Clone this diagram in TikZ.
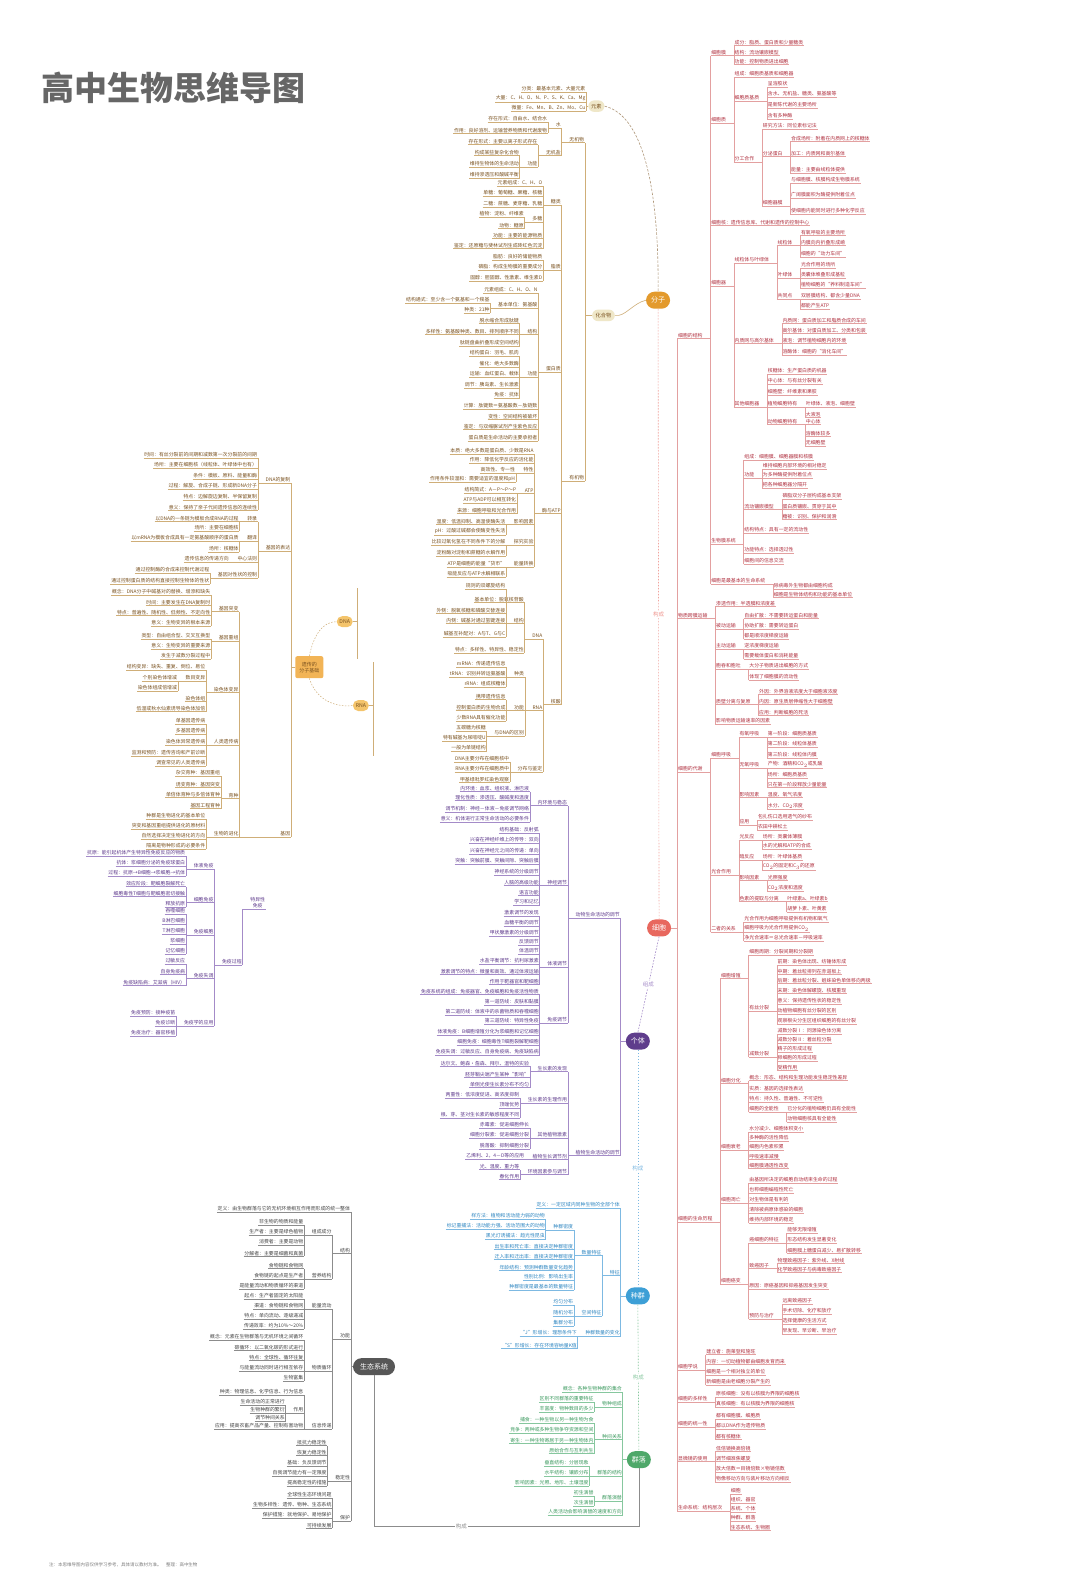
\documentclass[tikz,border=0pt]{standalone}
\usepackage{fontspec}
\setmainfont{Noto Sans CJK SC}
\usetikzlibrary{shapes.misc}
\definecolor{obt}{HTML}{7A5220}\definecolor{obl}{HTML}{CFAE78}
\definecolor{rbt}{HTML}{B0303F}\definecolor{rbl}{HTML}{E3A0A0}
\definecolor{pbt}{HTML}{5E3A8C}\definecolor{pbl}{HTML}{A48BC8}
\definecolor{ubt}{HTML}{2E86C1}\definecolor{ubl}{HTML}{7DB9E2}
\definecolor{gbt}{HTML}{3C9A5F}\definecolor{gbl}{HTML}{86C79E}
\definecolor{kbt}{HTML}{444444}\definecolor{kbl}{HTML}{8C8C8C}
\definecolor{beige}{HTML}{EFE7C8}\definecolor{cfz}{HTML}{E39A2D}
\definecolor{cxb}{HTML}{E8685E}\definecolor{cgt}{HTML}{5F3D8C}
\definecolor{czq}{HTML}{3D9FD6}\definecolor{cql}{HTML}{4FA86A}
\definecolor{cst}{HTML}{575757}\definecolor{cdna}{HTML}{F4C46B}
\definecolor{cbig}{HTML}{F2B456}\definecolor{ctitle}{HTML}{666666}
\colorlet{bt}{obt}\colorlet{bl}{obl}
\tikzset{
 lfL/.style={anchor=south east, inner xsep=0.6pt, inner ysep=0.8pt, text=bt, font=\fontsize{4.9}{5.5}\selectfont},
 lfR/.style={lfL, anchor=south west},
 br/.style={draw=bl, line width=0.4pt},
 anc/.style={inner sep=0pt, outer sep=0pt, minimum size=0pt},
 pill/.style={rounded rectangle, text=white, minimum height=17pt, minimum width=32pt, inner xsep=4pt, font=\fontsize{7}{8}\selectfont},
 spill/.style={rounded rectangle, fill=beige, text=obt, minimum height=11pt, minimum width=22pt, inner xsep=3pt, font=\fontsize{5.2}{6}\selectfont},
 spine/.style={line width=0.6pt, dash pattern=on 1.6pt off 1.4pt},
 lab/.style={fill=white, inner sep=1pt, font=\fontsize{5.5}{6}\selectfont},
}
\newcommand\kidsL[3][7]{%
  \path (#2.south west) ++(-#1,0) coordinate (#2-x);
  \foreach \yy/\tx [count=\nn] in {#3}{%
    \coordinate (yy) at (0,\yy);
    \node[lfL] (#2-\nn) at (#2-x |- yy) {\tx};
    \draw[br] (#2.south west) -| (#2-\nn.south east);
    \draw[br] (#2-\nn.south west) -- (#2-\nn.south east);
  }%
}
\newcommand\kidsR[3][7]{%
  \path (#2.south east) ++(#1,0) coordinate (#2-x);
  \foreach \yy/\tx [count=\nn] in {#3}{%
    \coordinate (yy) at (0,\yy);
    \node[lfR] (#2-\nn) at (#2-x |- yy) {\tx};
    \draw[br] (#2.south east) -| (#2-\nn.south west);
    \draw[br] (#2-\nn.south west) -- (#2-\nn.south east);
  }%
}
\begin{document}
\begin{tikzpicture}[x=1.011pt,y=-1.011pt]
\fill[white] (0,0) rectangle (1068,1568);
\useasboundingbox (0,0) rectangle (1068,1568);
\node[anchor=west, text=ctitle, font=\fontsize{33}{36}\selectfont\bfseries] (title) at (38,87) {高中生物思维导图};
\node[anchor=west, text=gray, font=\fontsize{4.5}{5}\selectfont] (foot) at (45,1548) {注：本思维导图内容仅供学习参考，具体请以教材为准。\quad 整理：高中生物};
% ---------- spine ----------
\node[spill] (ys) at (590,105) {元素};
\node[spill] (hh) at (597,312) {化合物};
\node[pill, fill=cfz] (fz) at (651,297) {分子};
\node[pill, fill=cxb] (xb) at (652,918) {细胞};
\node[pill, fill=cgt] (gt) at (631,1030) {个体};
\node[pill, fill=czq] (zq) at (631,1282) {种群};
\node[pill, fill=cql] (ql) at (632,1444) {群落};
\node[pill, fill=cst, minimum width=50pt] (st) at (370,1352) {生态系统};
\draw[draw=obt!60, line width=0.6pt, dash pattern=on 2.5pt off 1.5pt] (ys.east) .. controls (640,115) and (652,200) .. (fz.north);
\draw[draw=obl, line width=0.6pt] (hh.east) .. controls (618,314) and (626,300) .. (fz.west);
\draw[spine, draw=cxb!60] (fz.south) -- node[lab, text=cxb!70] {构成} (xb.north);
\draw[spine, draw=pbl] (xb.south) -- node[lab, text=pbl] {组成} (gt.north);
\draw[spine, draw=ubl] (gt.south) -- node[lab, text=ubl] {构成} (zq.north);
\draw[spine, draw=gbl] (zq.south) -- node[lab, text=gbl] {构成} (ql.north);
\coordinate (b1) at (632,1510); \coordinate (b2) at (370,1510);
\draw[draw=kbl, line width=0.5pt] (ql.south) -- (b1) -- node[lab, pos=0.67, text=kbl] {构成} (b2) -- (st.south);
% ---------- 元素 ----------
\node[anc] (ysw) at (ys.west) {};
\kidsL[2]{ysw}{91/分类：最基本元素、大量元素, 101/大量：C、H、O、N、P、S、K、Ca、Mg, 110/微量：Fe、Mn、B、Zn、Mo、Cu}
% ---------- 化合物 ----------
\node[anc] (hw) at (hh.west) {};
\kidsL{hw}{141/无机物, 476/有机物}
\kidsL{hw-1}{127/水, 154/无机盐}
\kidsL{hw-1-1}{121/存在形式：自由水、结合水, 132/作用：良好溶剂、运输营养物质和代谢废物}
\kidsL{hw-1-2}{143/存在形式：主要以离子形式存在, 165/功能}
\kidsL{hw-1-2-2}{154/构成某些复杂化合物, 165/维持生物体的生命活动, 176/维持渗透压和酸碱平衡}
\kidsL{hw-2}{203/糖类, 267/脂质, 368/蛋白质, 508/酶与ATP, 697/核酸}
\kidsL{hw-2-1}{184/元素组成：C、H、O, 194/单糖：葡萄糖、果糖、核糖, 205/二糖：蔗糖、麦芽糖、乳糖, 220/多糖, 236/功能：主要的能源物质, 246/鉴定：还原糖与斐林试剂生成砖红色沉淀}
\kidsL{hw-2-1-4}{215/植物：淀粉、纤维素, 226/动物：糖原}
\kidsL{hw-2-2}{257/脂肪：良好的储能物质, 267/磷脂：构成生物膜的重要成分, 278/固醇：胆固醇、性激素、维生素D}
\kidsL{hw-2-3}{290/元素组成：C、H、O、N, 305/基本单位：氨基酸, 331/结构, 373/功能, 405/计算：肽键数＝氨基酸数－肽链数, 415/变性：空间结构被破坏, 425/鉴定：与双缩脲试剂产生紫色反应, 436/蛋白质是生命活动的主要承担者}
\kidsL{hw-2-3-2}{300/结构通式：至少含一个氨基和一个羧基, 310/种类：21种}
\kidsL{hw-2-3-3}{320/脱水缩合形成肽键, 331/多样性：氨基酸种类、数目、排列顺序不同, 342/肽链盘曲折叠形成空间结构}
\kidsL{hw-2-3-4}{352/结构蛋白：羽毛、肌肉, 363/催化：绝大多数酶, 373/运输：血红蛋白、载体, 384/调节：胰岛素、生长激素, 394/免疫：抗体}
\kidsL{hw-2-4}{449/本质：绝大多数是蛋白质、少数是RNA, 458/作用：降低化学反应的活化能, 468/特性, 488/ATP, 519/影响因素, 539/探究实验, 561/能量转换}
\kidsL{hw-2-4-3}{468/高效性、专一性, 477/作用条件较温和：需要适宜的温度和pH}
\kidsL{hw-2-4-4}{488/结构简式：A－P～P～P, 498/ATP与ADP可以相互转化, 508/来源：细胞呼吸和光合作用}
\kidsL{hw-2-4-5}{519/温度：低温抑制、高温使酶失活, 529/pH：过酸过碱都会使酶变性失活}
\kidsL{hw-2-4-6}{539/比较过氧化氢在不同条件下的分解, 550/淀粉酶对淀粉和蔗糖的水解作用}
\kidsL{hw-2-4-7}{561/ATP是细胞的能量“货币”, 571/吸能反应与ATP水解相联系}
\kidsL{hw-2-5}{632/DNA, 703/RNA, 764/分布与鉴定}
\kidsL{hw-2-5-1}{596/基本单位：脱氧核苷酸, 617/结构, 646/特点：多样性、特异性、稳定性}
\kidsL{hw-2-5-1-2}{583/规则的双螺旋结构, 607/外侧：脱氧核糖和磷酸交替连接, 617/内侧：碱基对通过氢键连接, 630/碱基互补配对：A与T、G与C}
\kidsL{hw-2-5-2}{670/种类, 703/功能, 728/与DNA的区别}
\kidsL{hw-2-5-2-1}{660/mRNA：传递遗传信息, 670/tRNA：识别并转运氨基酸, 680/rRNA：组成核糖体}
\kidsL{hw-2-5-2-2}{692/携带遗传信息, 703/控制蛋白质的生物合成, 713/少数RNA具有催化功能}
\kidsL{hw-2-5-2-3}{723/五碳糖为核糖, 733/特有碱基为尿嘧啶U, 743/一般为单链结构}
\kidsL{hw-2-5-3}{754/DNA主要分布在细胞核中, 764/RNA主要分布在细胞质中, 774/甲基绿吡罗红染色观察}
% ---------- 遗传 ----------
\node[rounded corners=2pt, fill=cbig, text=obt, align=center, minimum width=28pt, minimum height=22pt, inner sep=1.5pt, font=\fontsize{5}{6}\selectfont] (bn) at (306,660) {遗传的\\分子基础};
\node[spill, fill=cdna] (dna) at (341,615) {DNA};
\node[spill, fill=cdna] (rna) at (357,698) {RNA};
\draw[draw=obl, line width=0.5pt, dash pattern=on 1.5pt off 1.5pt] (bn.north) .. controls (310,630) and (318,615) .. (dna.west);
\draw[draw=obl, line width=0.5pt, dash pattern=on 1.5pt off 1.5pt] (bn.south) .. controls (312,690) and (328,700) .. (rna.west);
\coordinate (sa1) at (353,582); \coordinate (sa2) at (353,652);
\coordinate (sb1) at (369,655); \coordinate (sb2) at (369,748);
\draw[br] (sa1) -- (sa2); \draw[br] (dna.east) -- (dna.east -| sa1);
\draw[br] (sb1) -- (sb2); \draw[br] (rna.east) -- (rna.east -| sb1);
\node[anc] (bnw) at (bn.west) {};
\kidsL[4]{bnw}{478/DNA的复制, 545/基因的表达, 828/基因}
\kidsL{bnw-1}{453/时间：有丝分裂前的间期和减数第一次分裂前的间期, 463/场所：主要在细胞核（线粒体、叶绿体中也有）, 474/条件：模板、原料、能量和酶, 484/过程：解旋、合成子链、形成新DNA分子, 495/特点：边解旋边复制、半保留复制, 505/意义：保持了亲子代间遗传信息的连续性}
\kidsL{bnw-2}{516/转录, 535/翻译, 556/中心法则, 572/基因对性状的控制}
\kidsL{bnw-2-1}{516/以DNA的一条链为模板合成RNA的过程, 525/场所：主要在细胞核}
\kidsL{bnw-2-2}{535/以mRNA为模板合成具有一定氨基酸顺序的蛋白质, 546/场所：核糖体}
\kidsL{bnw-2-3}{556/遗传信息的传递方向}
\kidsL{bnw-2-4}{567/通过控制酶的合成来控制代谢过程, 578/通过控制蛋白质的结构直接控制生物体的性状}
\kidsL[40]{bnw-3}{605/基因突变, 634/基因重组, 685/染色体变异, 737/人类遗传病, 790/育种, 828/生物的进化}
\kidsL{bnw-3-1}{589/概念：DNA分子中碱基对的替换、增添和缺失, 599/时间：主要发生在DNA复制时, 609/特点：普遍性、随机性、低频性、不定向性, 619/意义：生物变异的根本来源}
\kidsL{bnw-3-2}{632/类型：自由组合型、交叉互换型, 642/意义：生物变异的重要来源, 652/发生于减数分裂过程中}
\kidsL{bnw-3-3}{663/结构变异：缺失、重复、倒位、易位, 674/数目变异, 694/染色体组, 704/低温或秋水仙素诱导染色体加倍}
\kidsL{bnw-3-3-2}{674/个别染色体增减, 684/染色体组成倍增减}
\kidsL{bnw-3-4}{716/单基因遗传病, 726/多基因遗传病, 737/染色体异常遗传病, 748/监测和预防：遗传咨询和产前诊断, 758/调查常见的人类遗传病}
\kidsL{bnw-3-5}{768/杂交育种：基因重组, 779/诱变育种：基因突变, 789/单倍体育种与多倍体育种, 800/基因工程育种}
\kidsL{bnw-3-6}{810/种群是生物进化的基本单位, 820/突变和基因重组提供进化的原材料, 830/自然选择决定生物进化的方向, 840/隔离是物种形成的必要条件}
% ---------- 个体 ----------
\colorlet{bt}{pbt}\colorlet{bl}{pbl}
\node[anc] (gtw) at (gt.west) {};
\kidsL[5]{gtw}{908/动物生命活动的调节, 1143/植物生命活动的调节}
\kidsL{gtw-1}{797/内环境与稳态, 876/神经调节, 957/体液调节, 1012/免疫调节}
\kidsL{gtw-1-1}{783/内环境：血浆、组织液、淋巴液, 792/理化性质：渗透压、酸碱度和温度, 803/调节机制：神经－体液－免疫调节网络, 813/意义：机体进行正常生命活动的必要条件}
\kidsL{gtw-1-2}{824/结构基础：反射弧, 834/兴奋在神经纤维上的传导：双向, 845/兴奋在神经元之间的传递：单向, 855/突触：突触前膜、突触间隙、突触后膜, 866/神经系统的分级调节, 876/人脑的高级功能, 886/语言功能, 895/学习和记忆}
\kidsL{gtw-1-3}{906/激素调节的发现, 916/血糖平衡的调节, 926/甲状腺激素的分级调节, 935/反馈调节, 944/体温调节, 954/水盐平衡调节：抗利尿激素, 964/激素调节的特点：微量和高效、通过体液运输, 974/作用于靶器官和靶细胞}
\kidsL{gtw-1-4}{984/免疫系统的组成：免疫器官、免疫细胞和免疫活性物质, 994/第一道防线：皮肤和黏膜, 1004/第二道防线：体液中的杀菌物质和吞噬细胞, 1013/第三道防线：特异性免疫, 1024/体液免疫：B细胞增殖分化为浆细胞和记忆细胞, 1034/细胞免疫：细胞毒性T细胞裂解靶细胞, 1044/免疫失调：过敏反应、自身免疫病、免疫缺陷病}
\kidsL{gtw-2}{1060/生长素的发现, 1091/生长素的生理作用, 1126/其他植物激素, 1147/植物生长调节剂, 1162/环境因素参与调节}
\kidsL{gtw-2-1}{1055/达尔文、鲍森·詹森、拜尔、温特的实验, 1066/胚芽鞘尖端产生某种“影响”, 1076/单侧光使生长素分布不均匀}
\kidsL{gtw-2-2}{1086/两重性：低浓度促进、高浓度抑制, 1096/顶端优势, 1106/根、芽、茎对生长素的敏感程度不同}
\kidsL{gtw-2-3}{1116/赤霉素：促进细胞伸长, 1126/细胞分裂素：促进细胞分裂, 1137/脱落酸：抑制细胞分裂}
\kidsL{gtw-2-4}{1147/乙烯利、2，4－D等的应用}
\kidsL{gtw-2-5}{1157/光、温度、重力等, 1167/春化作用}
\node[lfL, align=center] (fp) at (263,899) {特异性\\免疫};
\draw[br] (fp.south west) -- (fp.south east);
\kidsL{fp}{955/免疫过程}
\kidsL{fp-1}{860/体液免疫, 893/细胞免疫, 925/免疫细胞, 968/免疫失调, 1015/免疫学的应用}
\kidsL{fp-1-1}{847/抗原：能引起机体产生特异性免疫反应的物质, 857/抗体：浆细胞分泌的免疫球蛋白, 867/过程：抗原→B细胞→浆细胞→抗体}
\kidsL{fp-1-2}{877/效应阶段：靶细胞裂解死亡, 887/细胞毒性T细胞与靶细胞密切接触, 897/释放抗原}
\kidsL{fp-1-3}{904/吞噬细胞, 914/B淋巴细胞, 924/T淋巴细胞, 934/浆细胞, 944/记忆细胞}
\kidsL{fp-1-4}{954/过敏反应, 964/自身免疫病, 975/免疫缺陷病：艾滋病（HIV）}
\kidsL{fp-1-5}{1005/免疫预防：接种疫苗, 1015/免疫诊断, 1025/免疫治疗：器官移植}
% ---------- 种群 ----------
\colorlet{bt}{ubt}\colorlet{bl}{ubl}
\node[anc] (zqw) at (zq.west) {};
\kidsL[5]{zqw}{1195/定义：一定区域内同种生物的全部个体, 1262/特征, 1322/种群数量的变化}
\kidsL{zqw-2}{1242/数量特征, 1302/空间特征}
\kidsL{zqw-2-1}{1217/种群密度, 1236/出生率和死亡率：直接决定种群密度, 1246/迁入率和迁出率：直接决定种群密度, 1257/年龄结构：预测种群数量变化趋势, 1266/性别比例：影响出生率, 1276/种群密度是最基本的数量特征}
\kidsL{zqw-2-1-1}{1206/样方法：植物和活动能力弱的动物, 1216/标记重捕法：活动能力强、活动范围大的动物, 1226/黑光灯诱捕法：趋光性昆虫}
\kidsL{zqw-2-2}{1291/均匀分布, 1302/随机分布, 1312/集群分布}
\kidsL{zqw-3}{1322/“J”形增长：理想条件下, 1334/“S”形增长：存在环境容纳量K值}
% ---------- 群落 ----------
\colorlet{bt}{gbt}\colorlet{bl}{gbl}
\node[anc] (qlw) at (ql.west) {};
\kidsL[4]{qlw}{1377/概念：各种生物种群的集合, 1392/物种组成, 1424/种间关系, 1460/群落的结构, 1485/群落演替, 1499/人类活动会影响演替的速度和方向}
\kidsL{qlw-2}{1387/区别不同群落的重要特征, 1397/丰富度：物种数目的多少}
\kidsL{qlw-3}{1408/捕食：一种生物以另一种生物为食, 1418/竞争：两种或多种生物争夺资源和空间, 1428/寄生：一种生物寄居于另一种生物体内, 1438/原始合作与互利共生}
\kidsL{qlw-4}{1450/垂直结构：分层现象, 1460/水平结构：镶嵌分布, 1470/影响因素：光照、地形、土壤湿度}
\kidsL{qlw-5}{1480/初生演替, 1490/次生演替}
% ---------- 生态系统 ----------
\colorlet{bt}{kbt}\colorlet{bl}{kbl}
\node[anc] (stw) at (st.west) {};
\kidsL[2]{stw}{1199/定义：由生物群落与它的无机环境相互作用而形成的统一整体, 1240/结构, 1325/功能, 1465/稳定性, 1505/保护}
\kidsL{stw-2}{1222/组成成分, 1265/营养结构}
\kidsL{stw-2-1}{1212/非生物的物质和能量, 1222/生产者：主要是绿色植物, 1232/消费者：主要是动物, 1243/分解者：主要是细菌和真菌}
\kidsL{stw-2-2}{1255/食物链和食物网, 1265/食物链的起点是生产者, 1275/是能量流动和物质循环的渠道}
\kidsL{stw-3}{1295/能量流动, 1356/物质循环, 1414/信息传递}
\kidsL{stw-3-1}{1285/起点：生产者固定的太阳能, 1295/渠道：食物链和食物网, 1305/特点：单向流动、逐级递减, 1315/传递效率：约为10\%～20\%}
\kidsL{stw-3-2}{1326/概念：元素在生物群落与无机环境之间循环, 1336/碳循环：以二氧化碳的形式进行, 1346/特点：全球性、循环往复, 1356/与能量流动同时进行相互依存, 1366/生物富集}
\kidsL{stw-3-3}{1380/种类：物理信息、化学信息、行为信息, 1398/作用, 1414/应用：提高农畜产品产量、控制有害动物}
\kidsL{stw-3-3-2}{1390/生命活动的正常进行, 1398/生物种群的繁衍, 1406/调节种间关系}
\kidsL{stw-4}{1430/抵抗力稳定性, 1440/恢复力稳定性, 1450/基础：负反馈调节, 1460/自我调节能力有一定限度, 1470/提高稳定性的措施}
\kidsL{stw-5}{1482/全球性生态环境问题, 1492/生物多样性：遗传、物种、生态系统, 1502/保护措施：就地保护、易地保护, 1512/可持续发展}
% ---------- 细胞 ----------
\colorlet{bt}{rbt}\colorlet{bl}{rbl}
\node[anc] (xbe) at (xb.east) {};
\kidsR[6]{xbe}{335/细胞的结构, 612/物质跨膜运输, 764/细胞的代谢, 1209/细胞的生命历程, 1355/细胞学说, 1387/细胞的多样性, 1412/细胞的统一性, 1446/显微镜的使用, 1495/生命系统：结构层次}
\kidsR{xbe-1}{55/细胞膜, 122/细胞质, 223/细胞核：遗传信息库、代谢和遗传的控制中心, 283/细胞器, 538/生物膜系统, 578/细胞是最基本的生命系统}
\kidsR{xbe-1-1}{45/成分：脂质、蛋白质和少量糖类, 55/结构：流动镶嵌模型, 64/功能：控制物质进出细胞}
\kidsR{xbe-1-2}{76/组成：细胞质基质和细胞器, 100/细胞质基质, 160/分工合作}
\kidsR{xbe-1-2-2}{86/呈溶胶状, 96/含水、无机盐、糖类、氨基酸等, 107/是新陈代谢的主要场所, 118/含有多种酶}
\kidsR{xbe-1-2-3}{128/研究方法：同位素标记法, 155/分泌蛋白, 204/细胞器膜}
\kidsR{xbe-1-2-3-2}{140/合成场所：附着在内质网上的核糖体, 155/加工：内质网和高尔基体, 171/能量：主要由线粒体提供}
\kidsR{xbe-1-2-3-3}{181/与细胞膜、核膜构成生物膜系统, 196/广阔膜面积为酶提供附着位点, 212/使细胞内能同时进行多种化学反应}
\kidsR{xbe-1-4}{260/线粒体与叶绿体, 340/内质网与高尔基体, 403/其他细胞器}
\kidsR{xbe-1-4-1}{243/线粒体, 275/叶绿体, 296/共同点}
\kidsR{xbe-1-4-1-1}{233/有氧呼吸的主要场所, 243/内膜向内折叠形成嵴, 254/细胞的“动力车间”}
\kidsR{xbe-1-4-1-2}{265/光合作用的场所, 275/类囊体堆叠形成基粒, 285/植物细胞的“养料制造车间”}
\kidsR{xbe-1-4-1-3}{296/双层膜结构、都含少量DNA, 306/都能产生ATP}
\kidsR{xbe-1-4-2}{320/内质网：蛋白质加工和脂质合成的车间, 330/高尔基体：对蛋白质加工、分类和包装, 340/液泡：调节植物细胞内的环境, 351/溶酶体：细胞的“消化车间”}
\kidsR{xbe-1-4-3}{370/核糖体：生产蛋白质的机器, 380/中心体：与有丝分裂有关, 391/细胞壁：纤维素和果胶, 403/植物细胞特有, 420/动物细胞特有}
\kidsR{xbe-1-4-3-4}{403/叶绿体、液泡、细胞壁, 413/大液泡}
\kidsR{xbe-1-4-3-5}{420/中心体, 432/溶酶体较多, 441/无细胞壁}
\kidsR{xbe-1-5}{455/组成：细胞膜、细胞器膜和核膜, 473/功能, 504/流动镶嵌模型, 527/结构特点：具有一定的流动性, 547/功能特点：选择透过性, 558/细胞间的信息交流}
\kidsR{xbe-1-5-2}{464/维持细胞内部环境的相对稳定, 473/为多种酶提供附着位点, 483/把各种细胞器分隔开}
\kidsR{xbe-1-5-3}{494/磷脂双分子层构成基本支架, 504/蛋白质镶嵌、贯穿于其中, 514/糖被：识别、保护和润滑}
\kidsR{xbe-1-6}{583/除病毒外生物都由细胞构成, 591/细胞是生物体结构和功能的基本单位}
\kidsR{xbe-2}{600/渗透作用：半透膜和浓度差, 622/被动运输, 642/主动运输, 662/胞吞和胞吐, 697/质壁分离与复原, 716/影响物质运输速率的因素}
\kidsR{xbe-2-2}{612/自由扩散：不需要转运蛋白和能量, 622/协助扩散：需要转运蛋白, 632/都是顺浓度梯度运输}
\kidsR{xbe-2-3}{642/逆浓度梯度运输, 652/需要载体蛋白和消耗能量}
\kidsR{xbe-2-4}{662/大分子物质进出细胞的方式, 673/体现了细胞膜的流动性}
\kidsR{xbe-2-5}{687/外因：外界溶液浓度大于细胞液浓度, 697/内因：原生质层伸缩性大于细胞壁, 708/应用：判断细胞的死活}
\kidsR{xbe-3}{750/细胞呼吸, 866/光合作用, 922/二者的关系}
\kidsR{xbe-3-1}{729/有氧呼吸, 760/无氧呼吸, 789/影响因素, 816/应用}
\kidsR{xbe-3-1-1}{729/第一阶段：细胞质基质, 739/第二阶段：线粒体基质, 750/第三阶段：线粒体内膜}
\kidsR{xbe-3-1-2}{760/产物：酒精和CO$_2$或乳酸, 770/场所：细胞质基质, 779/只在第一阶段释放少量能量}
\kidsR{xbe-3-1-3}{789/温度、氧气浓度, 801/水分、CO$_2$浓度}
\kidsR{xbe-3-1-4}{811/包扎伤口选用透气的纱布, 821/农田中耕松土}
\kidsR{xbe-3-2}{831/光反应, 851/暗反应, 871/影响因素, 892/色素的提取与分离}
\kidsR{xbe-3-2-1}{831/场所：类囊体薄膜, 840/水的光解和ATP的合成}
\kidsR{xbe-3-2-2}{851/场所：叶绿体基质, 861/CO$_2$的固定和C$_3$的还原}
\kidsR{xbe-3-2-3}{871/光照强度, 882/CO$_2$浓度和温度}
\kidsR{xbe-3-2-4}{892/叶绿素a、叶绿素b, 902/胡萝卜素、叶黄素}
\kidsR{xbe-3-3}{912/光合作用为细胞呼吸提供有机物和氧气, 922/细胞呼吸为光合作用提供CO$_2$, 931/净光合速率＝总光合速率－呼吸速率}
\kidsR{xbe-4}{968/细胞增殖, 1072/细胞分化, 1138/细胞衰老, 1190/细胞凋亡, 1270/细胞癌变}
\kidsR{xbe-4-1}{945/细胞周期：分裂间期和分裂期, 1000/有丝分裂, 1046/减数分裂}
\kidsR{xbe-4-1-2}{955/前期：染色体出现、纺锤体形成, 964/中期：着丝粒排列在赤道板上, 973/后期：着丝粒分裂、姐妹染色单体移向两极, 983/末期：染色体解螺旋、核膜重现, 993/意义：保持遗传性状的稳定性, 1003/动植物细胞有丝分裂的区别, 1013/观察根尖分生区组织细胞的有丝分裂}
\kidsR{xbe-4-1-3}{1023/减数分裂Ⅰ：同源染色体分离, 1032/减数分裂Ⅱ：着丝粒分裂, 1041/精子的形成过程, 1050/卵细胞的形成过程, 1059/受精作用}
\kidsR{xbe-4-2}{1069/概念：形态、结构和生理功能发生稳定性差异, 1080/实质：基因的选择性表达, 1090/特点：持久性、普遍性、不可逆性, 1100/细胞的全能性}
\kidsR{xbe-4-2-4}{1100/已分化的植物细胞仍具有全能性, 1110/动物细胞核具有全能性}
\kidsR{xbe-4-3}{1120/水分减少、细胞体积变小, 1129/多种酶的活性降低, 1138/细胞内色素积累, 1147/呼吸速率减慢, 1156/细胞膜通透性改变}
\kidsR{xbe-4-4}{1170/由基因所决定的细胞自动结束生命的过程, 1180/也称细胞编程性死亡, 1190/对生物体是有利的, 1200/清除被病原体感染的细胞, 1210/维持内部环境的稳定}
\kidsR{xbe-4-5}{1230/癌细胞的特征, 1255/致癌因子, 1275/原因：原癌基因和抑癌基因发生突变, 1305/预防与治疗}
\kidsR{xbe-4-5-1}{1220/能够无限增殖, 1230/形态结构发生显著变化, 1240/细胞膜上糖蛋白减少、易扩散转移}
\kidsR{xbe-4-5-2}{1250/物理致癌因子：紫外线、X射线, 1259/化学致癌因子与病毒致癌因子}
\kidsR{xbe-4-5-4}{1290/远离致癌因子, 1300/手术切除、化疗和放疗, 1310/选择健康的生活方式, 1320/早发现、早诊断、早治疗}
\kidsR{xbe-5}{1340/建立者：施莱登和施旺, 1350/内容：一切动植物都由细胞发育而来, 1360/细胞是一个相对独立的单位, 1370/新细胞是由老细胞分裂产生的}
\kidsR{xbe-6}{1382/原核细胞：没有以核膜为界限的细胞核, 1392/真核细胞：有以核膜为界限的细胞核}
\kidsR{xbe-7}{1404/都有细胞膜、细胞质, 1414/都以DNA作为遗传物质, 1424/都有核糖体}
\kidsR{xbe-8}{1436/低倍镜换高倍镜, 1446/调节细准焦螺旋, 1456/放大倍数＝目镜倍数×物镜倍数, 1466/物像移动方向与装片移动方向相反}
\kidsR{xbe-9}{1478/细胞, 1487/组织、器官, 1496/系统、个体, 1505/种群、群落, 1514/生态系统、生物圈}
\end{tikzpicture}
\end{document}
